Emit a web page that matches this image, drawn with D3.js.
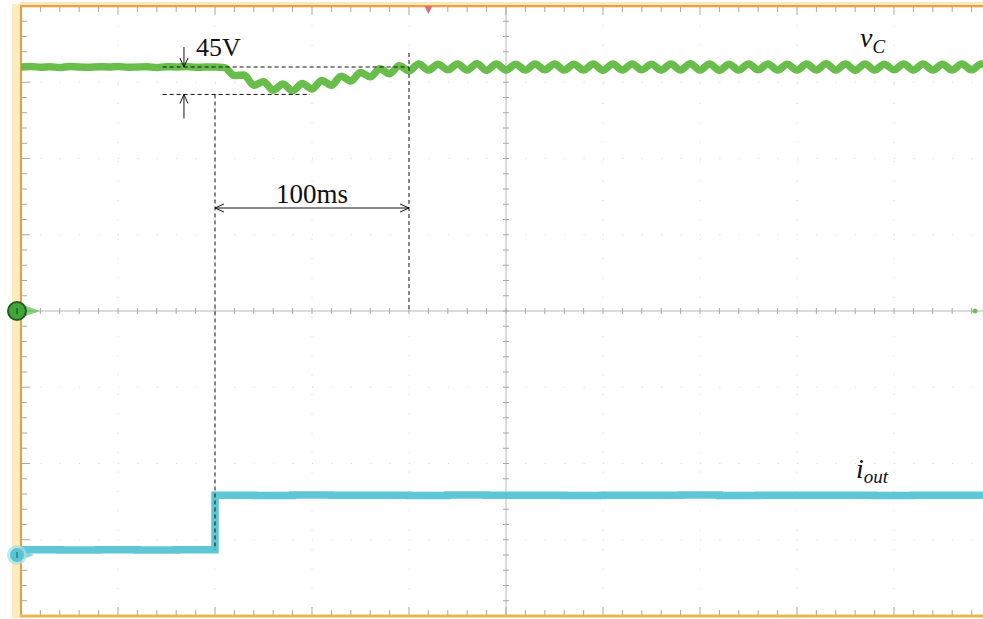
<!DOCTYPE html>
<html><head><meta charset="utf-8">
<script src="https://cdn.jsdelivr.net/npm/d3@7/dist/d3.min.js"></script>
<style>html,body{margin:0;padding:0;background:#fff}svg{display:block}</style>
</head><body>
<script>
// ---- data ----
// time in ms (50 ms/div), vC in volts (125 V/div), iout in A (5 A/div)
const vcTime = d3.range(0, 501, 5);
const vcValue = [
  400,401,399.5,400.5,399,401,400,399.5,400.5,400,401,399.5,400,400.5,399,400.5,400,401,399.5,400,400,
  399,386,387,370,376,362,372,361,373,364,378,370,385,377,391,384,397,389,402,394,
  405,395,404.5,395.5,405,395,405.5,394.5,405,395,404.5,395,405,395.5,405,395,404.5,395,405,394.5,
  405,395,405,395.5,404.5,395,405,395,405.5,395,405,394.5,404.5,395,405,395.5,405,395,404.5,395,
  405,395,405.5,395,405,394.5,405,395,404.5,395.5,405,395,405,395,404.5,395,405,395.5,405,395
];
const ioutTime  = [0,20,40,60,80,100,120,140,160,180,200,220,240,260,280,300,320,340,360,380,400,420,440,460,480,500];
const ioutValue = [0.34,0.33,0.35,0.33,0.34,3.92,3.9,3.93,3.91,3.92,3.9,3.93,3.91,3.92,3.9,3.92,3.91,3.93,3.9,3.92,3.91,3.92,3.9,3.92,3.91,3.92];
const vcNominal = 400, vcDip = 355;        // 45 V annotation
const tStep = 100, tRecover = 200;          // 100 ms annotation
const tArrow = 84, tDashStart = 73, tDipDashEnd = 149;
const labels = {v: "v", vSub: "C", i: "i", iSub: "out", dv: "45V", dt: "100ms"};
const V_PER_DIV = 125, A_PER_DIV = 5, IOUT_ZERO_DIV = -3.2, TRIG_T = 210;

// ---- layout ----
const W = 983, H = 619;
const x = d3.scaleLinear().domain([0, 500]).range([21, 991]);
const yDiv = d3.scaleLinear().domain([-4, 4]).range([616, 6]);
const yV = v => yDiv(v / V_PER_DIV);
const yI = a => yDiv(IOUT_ZERO_DIV + a / A_PER_DIV);

const svg = d3.select("body").append("svg").attr("width", W).attr("height", H);

// faint dotted grid
const g = svg.append("g");
d3.range(1, 10).forEach(k => {
  if (k === 5) return;
  g.append("line").attr("x1", x(k*50)).attr("x2", x(k*50)).attr("y1", yDiv(4)).attr("y2", yDiv(-4))
   .attr("stroke", "#d8d8d8").attr("stroke-width", 1).attr("stroke-dasharray", "1,18.4");
});
d3.range(-3, 4).forEach(k => {
  if (k === 0) return;
  g.append("line").attr("x1", x(0)).attr("x2", x(500)).attr("y1", yDiv(k)).attr("y2", yDiv(k))
   .attr("stroke", "#d8d8d8").attr("stroke-width", 1).attr("stroke-dasharray", "1,18.4");
});
// center axes
g.append("line").attr("x1", x(250)).attr("x2", x(250)).attr("y1", yDiv(4)).attr("y2", yDiv(-4)).attr("stroke", "#b8b8b8").attr("stroke-width", 1);
g.append("line").attr("x1", x(0)).attr("x2", x(500)).attr("y1", yDiv(0)).attr("y2", yDiv(0)).attr("stroke", "#b8b8b8").attr("stroke-width", 1);
// minor ticks
d3.range(0, 50.01, 1).forEach(k => {
  const t = k * 10, xx = x(t);
  g.append("line").attr("x1", xx).attr("x2", xx).attr("y1", yDiv(0)-3).attr("y2", yDiv(0)+3).attr("stroke", "#a8a8a8");
  g.append("line").attr("x1", xx).attr("x2", xx).attr("y1", yDiv(4)).attr("y2", yDiv(4)+(k%5===0?9:6)).attr("stroke", "#a8a8a8");
  g.append("line").attr("x1", xx).attr("x2", xx).attr("y1", yDiv(-4)).attr("y2", yDiv(-4)-(k%5===0?9:6)).attr("stroke", "#a8a8a8");
});
d3.range(-20, 20.01, 1).forEach(k => {
  const yy = yDiv(k/5);
  g.append("line").attr("x1", x(250)-3).attr("x2", x(250)+3).attr("y1", yy).attr("y2", yy).attr("stroke", "#a8a8a8");
  g.append("line").attr("x1", x(0)).attr("x2", x(0)+(k%5===0?9:6)).attr("y1", yy).attr("y2", yy).attr("stroke", "#a8a8a8");
});

// borders
svg.append("rect").attr("x", 12).attr("y", 4).attr("width", 9).attr("height", 614).attr("fill", "#fcebbd");
svg.append("line").attr("x1", 21).attr("x2", 21).attr("y1", 5).attr("y2", 617).attr("stroke", "#dca24a").attr("stroke-width", 2);
svg.append("line").attr("x1", 20).attr("x2", W).attr("y1", 6).attr("y2", 6).attr("stroke", "#f0a040").attr("stroke-width", 2.5);
svg.append("rect").attr("x", 20).attr("y", 2).attr("width", W).attr("height", 3).attr("fill", "#fde6c2");
svg.append("line").attr("x1", 20).attr("x2", W).attr("y1", 616).attr("y2", 616).attr("stroke", "#e6b850").attr("stroke-width", 3);

// traces
const vcLine = d3.line().x((d,i) => x(vcTime[i])).y(d => yV(d)).curve(d3.curveMonotoneX);
svg.append("path").attr("d", vcLine(vcValue)).attr("fill", "none")
  .attr("stroke", "#5cb83c").attr("stroke-width", 7.5).attr("stroke-opacity", 0.92).attr("stroke-linejoin", "round");
const ioLine = d3.line().x((d,i) => x(ioutTime[i])).y(d => yI(d)).curve(d3.curveStepAfter);
svg.append("path").attr("d", ioLine(ioutValue)).attr("fill", "none")
  .attr("stroke", "#55c4d4").attr("stroke-width", 7.5).attr("stroke-opacity", 0.95);

// annotations
const ann = svg.append("g").attr("stroke", "#111").attr("stroke-width", 1).attr("fill", "none");
const dash = "4,3";
ann.append("line").attr("x1", x(tDashStart)).attr("x2", x(tRecover)).attr("y1", yV(vcNominal)).attr("y2", yV(vcNominal)).attr("stroke-dasharray", dash);
ann.append("line").attr("x1", x(tDashStart)).attr("x2", x(tDipDashEnd)).attr("y1", yV(vcDip)).attr("y2", yV(vcDip)).attr("stroke-dasharray", dash);
ann.append("line").attr("x1", x(tStep)).attr("x2", x(tStep)).attr("y1", yV(vcDip)).attr("y2", yI(ioutValue[0])).attr("stroke-dasharray", dash);
ann.append("line").attr("x1", x(tRecover)).attr("x2", x(tRecover)).attr("y1", yV(vcNominal)-14).attr("y2", yDiv(0)).attr("stroke-dasharray", dash);
// vertical arrows
const ax = x(tArrow), yTop = yV(vcNominal), yBot = yV(vcDip);
ann.append("line").attr("x1", ax).attr("x2", ax).attr("y1", yTop-20).attr("y2", yTop);
ann.append("path").attr("d", `M${ax-4},${yTop-9}L${ax},${yTop}L${ax+4},${yTop-9}`);
ann.append("line").attr("x1", ax).attr("x2", ax).attr("y1", yBot).attr("y2", yBot+24);
ann.append("path").attr("d", `M${ax-4},${yBot+9}L${ax},${yBot}L${ax+4},${yBot+9}`);
// horizontal arrow
const hy = 208, hx1 = x(tStep), hx2 = x(tRecover);
ann.append("line").attr("x1", hx1).attr("x2", hx2).attr("y1", hy).attr("y2", hy);
ann.append("path").attr("d", `M${hx1+9},${hy-4}L${hx1},${hy}L${hx1+9},${hy+4}`);
ann.append("path").attr("d", `M${hx2-9},${hy-4}L${hx2},${hy}L${hx2-9},${hy+4}`);

const serif = "'Liberation Serif','Times New Roman',serif";
svg.append("text").attr("x", ax + 12).attr("y", 56).attr("font-family", serif).attr("font-size", 26).attr("fill", "#111").text(labels.dv);
svg.append("text").attr("x", (hx1+hx2)/2).attr("y", 203).attr("text-anchor", "middle").attr("font-family", serif).attr("font-size", 27).attr("fill", "#111").text(labels.dt);
const tv = svg.append("text").attr("x", 860).attr("y", 47).attr("font-family", serif).attr("font-style", "italic").attr("font-size", 28).attr("fill", "#111");
tv.append("tspan").text(labels.v);
tv.append("tspan").attr("dy", 6).attr("font-size", 19).text(labels.vSub);
const ti = svg.append("text").attr("x", 856).attr("y", 478).attr("font-family", serif).attr("font-style", "italic").attr("font-size", 28).attr("fill", "#111");
ti.append("tspan").text(labels.i);
ti.append("tspan").attr("dy", 5).attr("font-size", 19).text(labels.iSub);

// channel markers
const gy = yDiv(0);
svg.append("path").attr("d", `M20,${gy-7}L40,${gy}L20,${gy+7}Z`).attr("fill", "#6cc25a").attr("opacity", 0.8);
svg.append("circle").attr("cx", 17).attr("cy", gy).attr("r", 9).attr("fill", "#3fa63a").attr("stroke", "#245c22").attr("stroke-width", 2);
svg.append("line").attr("x1", 17).attr("x2", 17).attr("y1", gy-3).attr("y2", gy+3).attr("stroke", "#1c3f1a");
svg.append("circle").attr("cx", 975).attr("cy", gy).attr("r", 2.5).attr("fill", "#6cc25a");
const cy0 = yI(0);
svg.append("path").attr("d", `M20,${cy0-5}L34,${cy0}L20,${cy0+5}Z`).attr("fill", "#66c8d6").attr("opacity", 0.8);
svg.append("circle").attr("cx", 17).attr("cy", cy0).attr("r", 10).attr("fill", "#a5e0e8").attr("opacity", 0.7);
svg.append("circle").attr("cx", 17).attr("cy", cy0).attr("r", 7).attr("fill", "#58c4d2");
svg.append("line").attr("x1", 17).attr("x2", 17).attr("y1", cy0-3).attr("y2", cy0+3).attr("stroke", "#1f5c66");
// trigger marker
const tx = x(TRIG_T);
svg.append("path").attr("d", `M${tx-4},6L${tx+4},6L${tx},14Z`).attr("fill", "#e06a78");
</script>
</body></html>
